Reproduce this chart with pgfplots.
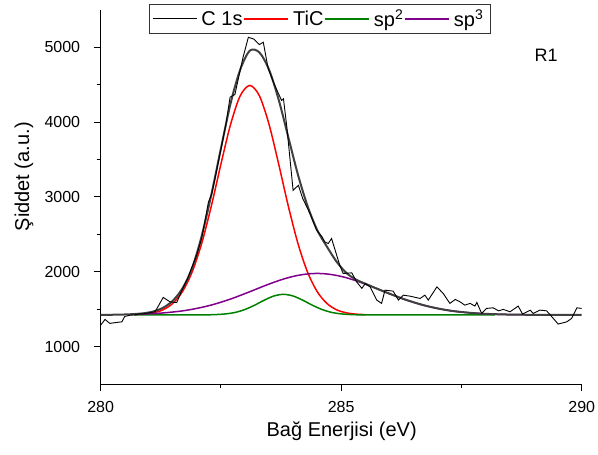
\documentclass[border=0pt]{standalone}
\usepackage{fontspec}
\setmainfont{Liberation Sans}
\usepackage{pgfplots}
\pgfplotsset{compat=1.18}
\definecolor{cred}{RGB}{255,0,0}
\definecolor{cgreen}{RGB}{0,128,0}
\definecolor{cpurple}{RGB}{128,0,140}
\definecolor{cenv}{RGB}{64,64,64}
\begin{document}
\begin{tikzpicture}[x=1pt,y=1pt]
\path[use as bounding box] (0,0) rectangle (598,455);
\begin{axis}[
  at={(100.7pt,70.8pt)}, anchor=south west,
  scale only axis, width=481pt, height=374.4pt,
  xmin=280, xmax=290, ymin=500, ymax=5500,
  axis lines=left, axis line style={-, line width=1pt},
  xtick={280,285,290}, minor x tick num=1,
  ytick={1000,2000,3000,4000,5000}, minor y tick num=1,
  tick align=outside, major tick length=7pt, minor tick length=4pt,
  every tick/.style={black, line width=1pt},
  tick label style={font=\fontsize{16}{18}\selectfont},
  yticklabel style={anchor=east, inner sep=0pt, xshift=-13.4pt},
  xticklabel style={anchor=north, inner sep=0pt, yshift=-9.5pt},
  /pgf/number format/assume math mode=true,
  /pgf/number format/1000 sep={},
  xlabel={Bağ Enerjisi (eV)}, ylabel={Şiddet (a.u.)},
  label style={font=\fontsize{20}{22}\selectfont},
  xlabel style={at={(axis description cs:0.501,-0.1402)}, anchor=base},
  ylabel style={at={(axis description cs:-0.1595,0.554)}, anchor=center},
  legend columns=4,
  legend style={at={(axis description cs:0.1004,1.0155)}, anchor=north west,
    draw=black!80, line width=1pt, font=\fontsize{20}{22}\selectfont,
    nodes={inner xsep=4pt, inner ysep=3pt},
    /tikz/every even column/.append style={column sep=-3pt}},
]
\addlegendimage{legend image code/.code={\draw[black, line width=1pt] (0pt,0pt) -- (44pt,0pt);}}
\addlegendentry{C 1s}
\addlegendimage{legend image code/.code={\draw[cred, line width=1.5pt] (0pt,0pt) -- (44pt,0pt);}}
\addlegendentry{TiC}
\addlegendimage{legend image code/.code={\draw[cgreen, line width=1.5pt] (0pt,0pt) -- (44pt,0pt);}}
\addlegendentry{sp\textsuperscript{2}}
\addlegendimage{legend image code/.code={\draw[cpurple, line width=1.5pt] (0pt,0pt) -- (44pt,0pt);}}
\addlegendentry{sp\textsuperscript{3}}

% TiC component
\addplot[cred, line width=1.5pt, smooth, forget plot] coordinates {
(280.7,1429) (280.9,1436) (281.1,1454) (281.3,1495) (281.5,1580) (281.7,1737)
(281.9,1997) (282.1,2381) (282.3,2879) (282.5,3440) (282.7,3969) (282.9,4351)
(283.1,4490) (283.3,4351) (283.5,3969) (283.7,3440) (283.9,2879) (284.1,2381)
(284.3,1997) (284.5,1737) (284.7,1580) (284.9,1495) (285.1,1454) (285.3,1436)
(285.5,1429)};
% sp2 component
\addplot[cgreen, line width=1.5pt, smooth, forget plot] coordinates {
(280.7,1425) (281.4,1425) (282.0,1425) (282.2,1426) (282.4,1430) (282.6,1439)
(282.8,1459) (283.0,1498) (283.2,1555) (283.4,1622) (283.6,1678) (283.8,1700)
(284.0,1678) (284.2,1622) (284.4,1555) (284.6,1498) (284.8,1459) (285.0,1439)
(285.2,1430) (285.4,1426) (285.6,1425) (286.5,1425) (287.4,1425) (288.2,1425)};
% sp3 component
\addplot[cpurple, line width=1.5pt, smooth, forget plot] coordinates {
(280.7,1433) (280.9,1437) (281.1,1443) (281.3,1452) (281.5,1464) (281.7,1479)
(281.9,1500) (282.1,1526) (282.3,1557) (282.5,1595) (282.7,1637) (282.9,1685)
(283.1,1735) (283.3,1787) (283.5,1837) (283.7,1883) (283.9,1923) (284.1,1953)
(284.3,1972) (284.5,1979) (284.7,1972) (284.9,1953) (285.1,1923) (285.3,1883)
(285.5,1837) (285.7,1787) (285.9,1735) (286.1,1685) (286.3,1637) (286.5,1595)
(286.7,1557) (286.9,1526) (287.1,1500) (287.3,1479) (287.5,1464) (287.7,1452)
(287.9,1443) (288.1,1437) (288.3,1433) (288.5,1430) (288.9,1427) (289.5,1425)};
% envelope (fit sum)
\addplot[cenv, line width=2pt, smooth, forget plot] coordinates {
(280.0,1425) (280.3,1428) (280.5,1431) (280.7,1437) (280.9,1448) (281.1,1472)
(281.3,1522) (281.5,1615) (281.7,1780) (281.9,2050) (282.1,2480) (282.3,3030)
(282.5,3650) (282.7,4250) (282.9,4700) (283.1,4955) (283.3,4930) (283.5,4700)
(283.7,4300) (283.9,3800) (284.1,3300) (284.3,2880) (284.5,2560) (284.7,2340)
(284.9,2140) (285.1,1990) (285.3,1900) (285.5,1842) (285.7,1787) (285.9,1735)
(286.1,1685) (286.3,1637) (286.5,1595) (286.7,1557) (286.9,1526) (287.1,1500)
(287.3,1479) (287.5,1464) (287.7,1452) (287.9,1443) (288.1,1437) (288.3,1433)
(288.5,1430) (288.9,1427) (289.5,1425) (290.0,1425)};
% measured C 1s spectrum
\addplot[black, line width=0.9pt, forget plot] coordinates {
(280.00,1289) (280.09,1365) (280.19,1312) (280.30,1322) (280.44,1333) (280.50,1405)
(280.60,1420) (280.70,1425) (280.80,1438) (280.90,1440) (281.00,1452) (281.13,1467)
(281.30,1659) (281.44,1600) (281.58,1590) (281.70,1770) (281.80,1900) (281.90,2070)
(282.00,2230) (282.10,2450) (282.24,2933) (282.31,3045) (282.40,3320) (282.50,3640)
(282.60,3960) (282.69,4333) (282.79,4369) (282.96,4867) (283.07,5133) (283.18,5110)
(283.30,5036) (283.38,5067) (283.48,4720) (283.60,4520) (283.76,4289) (283.80,4312)
(283.87,3933) (284.00,3089) (284.11,3156) (284.20,2980) (284.35,2780) (284.49,2556)
(284.60,2470) (284.66,2400) (284.73,2379) (284.80,2445) (284.97,2089) (285.04,1979)
(285.22,1987) (285.32,1867) (285.43,1779) (285.50,1845) (285.60,1800) (285.74,1623)
(285.84,1579) (285.91,1756) (286.08,1743) (286.19,1623) (286.29,1689) (286.43,1676)
(286.64,1645) (286.74,1689) (286.81,1623) (286.99,1800) (287.12,1712) (287.26,1579)
(287.37,1632) (287.47,1600) (287.57,1556) (287.68,1579) (287.78,1543) (287.82,1592)
(287.92,1445) (288.02,1512) (288.16,1520) (288.27,1480) (288.37,1499) (288.51,1467)
(288.68,1543) (288.77,1436) (288.93,1489) (288.99,1445) (289.13,1489) (289.27,1480)
(289.38,1400) (289.51,1303) (289.69,1333) (289.79,1379) (289.90,1520) (290.00,1512)};

\node[font=\fontsize{18}{20}\selectfont] at (rel axis cs:0.926,0.878) {R1};
\end{axis}
\end{tikzpicture}
\end{document}
